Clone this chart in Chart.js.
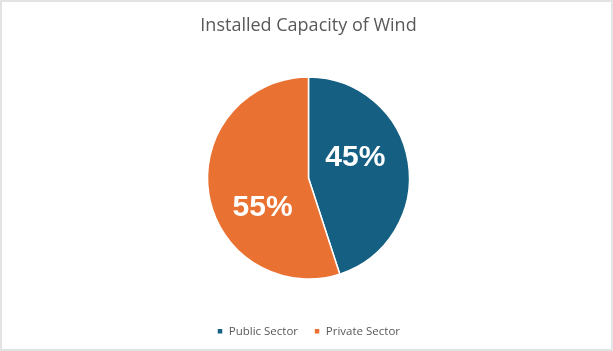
<!DOCTYPE html>
<html>
<head>
<meta charset="utf-8">
<script src="https://cdn.jsdelivr.net/npm/chart.js@4"></script>
<style>
  html, body { margin: 0; padding: 0; background: #fff; }
  #wrap { position: relative; width: 613px; height: 351px; box-sizing: border-box; border: 2px solid #e3e3e3; }
  #chart { display: block; }
</style>
</head>
<body>
<div id="wrap"><canvas id="chart" width="609" height="347"></canvas></div>
<script>
const CATEGORIES = ['Public Sector', 'Private Sector'];
const SHARES = [45, 55];
const COLORS = ['#156082', '#E97132'];
const TITLE = 'Installed Capacity of Wind';

// percentage labels inside the slices
const sliceLabels = {
  id: 'sliceLabels',
  afterDatasetsDraw(chart, args, opts) {
    const ctx = chart.ctx;
    const meta = chart.getDatasetMeta(0);
    const total = SHARES.reduce((a, b) => a + b, 0);
    ctx.save();
    ctx.fillStyle = '#fff';
    ctx.font = 'bold 30px "Liberation Sans", Arial, sans-serif';
    ctx.textAlign = 'center';
    ctx.textBaseline = 'middle';
    meta.data.forEach((arc, i) => {
      const p = arc.getProps(['x', 'y', 'startAngle', 'endAngle', 'outerRadius'], true);
      const mid = (p.startAngle + p.endAngle) / 2;
      const r = p.outerRadius * 0.5;
      const off = opts.offsets[i] || [0, 0];
      const x = p.x + Math.cos(mid) * r + off[0];
      const y = p.y + Math.sin(mid) * r + off[1];
      ctx.fillText(Math.round(SHARES[i] / total * 100) + '%', x, y);
    });
    ctx.restore();
  }
};

new Chart(document.getElementById('chart'), {
  type: 'pie',
  data: {
    labels: CATEGORIES,
    datasets: [{
      data: SHARES,
      backgroundColor: COLORS,
      borderColor: '#fff',
      borderWidth: 1.5
    }]
  },
  options: {
    responsive: false,
    animation: false,
    radius: 101,
    layout: { padding: { top: 5, bottom: 2, left: 4 } },
    plugins: {
      title: {
        display: true,
        text: TITLE,
        color: '#595959',
        font: { family: '"Open Sans", sans-serif', size: 18, weight: 'normal' },
        padding: { top: 8, bottom: 10 }
      },
      legend: {
        position: 'bottom',
        labels: {
          color: '#595959',
          boxWidth: 6,
          boxHeight: 6,
          padding: 16,
          font: { family: '"Open Sans", sans-serif', size: 11.5 }
        }
      },
      tooltip: { enabled: false },
      sliceLabels: { offsets: [[-3, -12], [4, 22]] }
    }
  },
  plugins: [sliceLabels]
});
</script>
</body>
</html>
